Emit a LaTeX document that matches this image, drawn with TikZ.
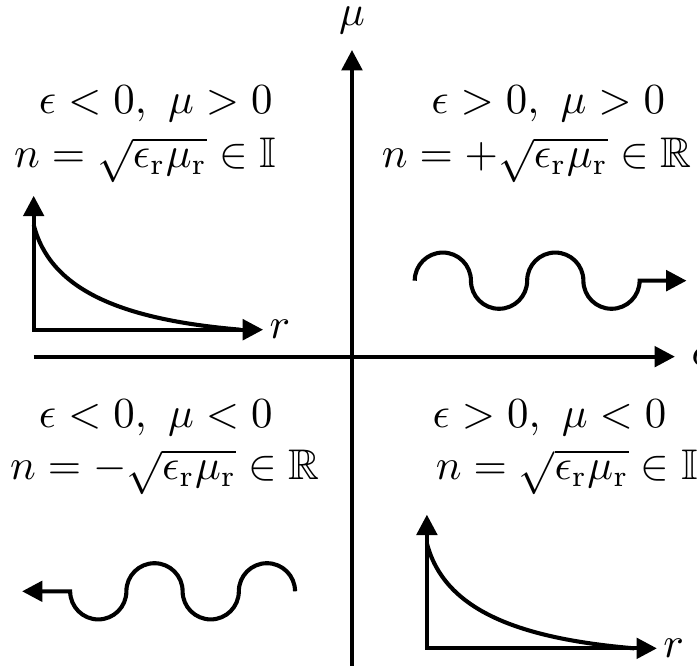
\documentclass[tikz,border=0pt]{standalone}
\usepackage{amsmath,amssymb}
\usetikzlibrary{arrows.meta}

\begin{document}
\begin{tikzpicture}[>={Triangle[length=5pt,width=5pt]},line width=1pt,
  every node/.style={scale=1.05,transform shape},lbl/.style={anchor=base}]
\useasboundingbox (-3.03,-2.66) rectangle (2.97,3.07);
\draw[->] (-2.74,0) -- (2.78,0) node[right] (eps) {$\epsilon$};
\draw[->] (0,-2.75) -- (0,2.64) node[above] (mu) {$\mu$};
\node[lbl] (tlcond) at (-1.69,2.09) {$\epsilon<0,\ \mu>0$};
\node[lbl] (tlidx) at (-1.78,1.625) {$n=\sqrt{\epsilon_\mathrm{r}\mu_\mathrm{r}}\in\mathbb{I}$};
\node[lbl] (trcond) at (1.69,2.09) {$\epsilon>0,\ \mu>0$};
\node[lbl] (tridx) at (1.59,1.625) {$n=+\sqrt{\epsilon_\mathrm{r}\mu_\mathrm{r}}\in\mathbb{R}$};
\node[lbl] (blcond) at (-1.69,-0.61) {$\epsilon<0,\ \mu<0$};
\node[lbl] (blidx) at (-1.61,-1.06) {$n=-\sqrt{\epsilon_\mathrm{r}\mu_\mathrm{r}}\in\mathbb{R}$};
\node[lbl] (brcond) at (1.70,-0.61) {$\epsilon>0,\ \mu<0$};
\node[lbl] (bridx) at (1.85,-1.06) {$n=\sqrt{\epsilon_\mathrm{r}\mu_\mathrm{r}}\in\mathbb{I}$};
\draw[<->] (-2.74,1.385) -- (-2.74,0.232) -- (-0.765,0.232) node[right,inner sep=1pt] (rtl) {$r$};
\draw (-2.74,1.135) .. controls (-2.60,0.58) and (-2.0,0.32) .. (-0.96,0.232);
\draw[<->] (0.645,-1.36) -- (0.645,-2.511) -- (2.625,-2.511) node[right,inner sep=1pt] (rbr) {$r$};
\draw (0.645,-1.608) .. controls (0.79,-2.163) and (1.39,-2.423) .. (2.43,-2.511);
\draw[->] (0.54,0.654) arc[start angle=180,end angle=0,radius=0.242]
  arc[start angle=180,end angle=360,radius=0.242]
  arc[start angle=180,end angle=0,radius=0.242]
  arc[start angle=180,end angle=360,radius=0.242] -- (2.88,0.654);
\draw[->] (-0.49,-2.02) arc[start angle=0,end angle=180,radius=0.242]
  arc[start angle=0,end angle=-180,radius=0.242]
  arc[start angle=0,end angle=180,radius=0.242]
  arc[start angle=0,end angle=-180,radius=0.242] -- (-2.84,-2.02);
\end{tikzpicture}
\end{document}
